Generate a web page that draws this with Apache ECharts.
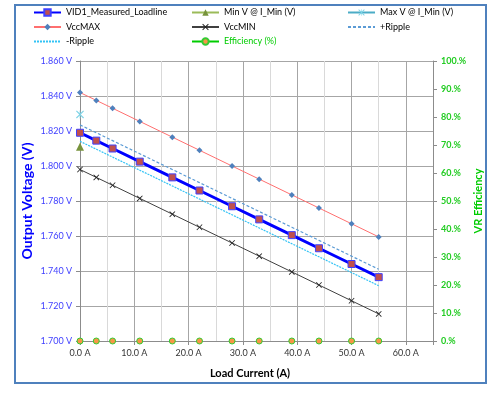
<!DOCTYPE html>
<html>
<head>
<meta charset="utf-8">
<script src="https://cdn.jsdelivr.net/npm/echarts@6/dist/echarts.min.js"></script>
<style>html,body{margin:0;padding:0;background:#fff}#c{width:500px;height:395px}</style>
</head>
<body>
<div id="c"></div>
<script>
var loadCurrent = [0, 3, 6, 11, 17, 22, 28, 33, 39, 44, 50, 55];
var vid1Measured = [1.819, 1.8145, 1.810, 1.8025, 1.7935, 1.786, 1.777, 1.7695, 1.7605, 1.753, 1.744, 1.7365];
var vccMax = [1.842, 1.8375, 1.833, 1.8255, 1.8165, 1.809, 1.800, 1.7925, 1.7835, 1.776, 1.767, 1.7595];
var vccMin = [1.798, 1.7935, 1.789, 1.7815, 1.7725, 1.765, 1.756, 1.7485, 1.7395, 1.732, 1.723, 1.7155];
var plusRipple = [1.8235, 1.819, 1.8145, 1.807, 1.798, 1.7905, 1.7815, 1.774, 1.765, 1.7575, 1.7485, 1.741];
var minusRipple = [1.8141, 1.8096, 1.8051, 1.7976, 1.7886, 1.7811, 1.7721, 1.7646, 1.7556, 1.7481, 1.7391, 1.7316];
var minVAtIMin = [[0, 1.811]];
var maxVAtIMin = [[0, 1.8295]];
var efficiency = [0, 0, 0, 0, 0, 0, 0, 0, 0, 0, 0, 0];
var xTicks = {min: 0, max: 65, interval: 10};
var yTicks = {min: 1.70, max: 1.86, interval: 0.02};
var effTicks = {min: 0, max: 100, interval: 10};

function pairs(xs, ys) { return xs.map(function (x, i) { return [x, ys[i]]; }); }

var FONT = 'Lato';
var xShape = 'path://M0,1L1,0L5,4L9,0L10,1L6,5L10,9L9,10L5,6L1,10L0,9L4,5Z';
var starShape = 'path://M0,1L1,0L5,4L9,0L10,1L6,5L10,9L9,10L5,6L1,10L0,9L4,5Z M4.6,0L5.4,0L5.4,10L4.6,10Z';

var chart = echarts.init(document.getElementById('c'), null, {renderer: 'canvas'});
var legendText = {fontFamily: FONT, fontSize: 9, color: '#000'};
function legend(left, names) {
  return {
    orient: 'vertical', left: left, top: 8, itemWidth: 27, itemHeight: 8, itemGap: 5.5,
    padding: 0, textStyle: legendText, data: names
  };
}
var noSym = {opacity: 0};
chart.setOption({
  animation: false,
  textStyle: {fontFamily: FONT},
  graphic: [{
    type: 'rect', shape: {x: 15, y: 5, width: 471, height: 378},
    style: {fill: 'none', stroke: '#4f81bd', lineWidth: 2}, silent: true
  }],
  legend: [
    legend(33, ['VID1_Measured_Loadline', 'VccMAX', {name: '-Ripple', itemStyle: noSym}]),
    legend(191, ['Min V @ I_Min (V)', 'VccMIN', {name: 'Efficiency (%)', textStyle: {color: '#00cc00'}, lineStyle: {color: '#00cc00', width: 2, opacity: 1}}]),
    legend(347, ['Max V @ I_Min (V)', {name: '+Ripple', itemStyle: noSym}])
  ],
  grid: {left: 80, right: 67, top: 61, bottom: 54},
  xAxis: {
    type: 'value', min: xTicks.min, max: xTicks.max, interval: xTicks.interval,
    name: 'Load Current (A)', nameLocation: 'middle', nameGap: 27,
    nameTextStyle: {fontFamily: FONT, fontSize: 11, fontWeight: 'bold', color: '#000', padding: [0, 13, 0, 0]},
    axisLine: {show: true, onZero: false, lineStyle: {color: '#8c8c8c'}},
    axisTick: {show: true, length: 4, lineStyle: {color: '#8c8c8c'}},
    axisLabel: {fontFamily: FONT, fontSize: 9, color: '#333', margin: 8,
      formatter: function (v) { return v > 60 ? '' : v.toFixed(1) + ' A'; }},
    splitLine: {show: true, lineStyle: {color: '#a6a6a6'}},
    minorTick: {show: false, splitNumber: 2},
    minorSplitLine: {show: true, lineStyle: {color: '#d9d9d9'}}
  },
  yAxis: [{
    type: 'value', min: yTicks.min, max: yTicks.max, interval: yTicks.interval,
    name: 'Output Voltage (V)', nameLocation: 'middle', nameGap: 46, nameRotate: 90, nameMoveOverlap: false,
    nameTextStyle: {fontFamily: FONT, fontSize: 14, fontWeight: 'bold', color: '#0000ff'},
    axisLine: {show: true, lineStyle: {color: '#8c8c8c'}},
    axisTick: {show: true, length: 4, lineStyle: {color: '#8c8c8c'}},
    axisLabel: {fontFamily: FONT, fontSize: 9, color: '#3f3fff', margin: 8,
      formatter: function (v) { return v.toFixed(3) + ' V'; }},
    splitLine: {show: true, lineStyle: {color: '#a6a6a6'}}
  }, {
    type: 'value', position: 'right', min: effTicks.min, max: effTicks.max, interval: effTicks.interval,
    name: 'VR Efficiency', nameLocation: 'middle', nameGap: 40, nameRotate: 90, nameMoveOverlap: false,
    nameTextStyle: {fontFamily: FONT, fontSize: 11, fontWeight: 'bold', color: '#00cc00'},
    axisLine: {show: true, lineStyle: {color: '#8c8c8c'}},
    axisTick: {show: true, length: 4, lineStyle: {color: '#8c8c8c'}},
    axisLabel: {fontFamily: FONT, fontSize: 9, fontWeight: 'bold', color: '#22cc22', margin: 8,
      formatter: function (v) { return v + '.%'; }},
    splitLine: {show: false}
  }],
  series: [
    {name: '+Ripple', type: 'line', data: pairs(loadCurrent, plusRipple), symbol: 'none',
      lineStyle: {color: '#5b9bd5', width: 1.2, type: [3, 2]}, itemStyle: {color: '#5b9bd5'}, z: 2},
    {name: '-Ripple', type: 'line', data: pairs(loadCurrent, minusRipple), symbol: 'none',
      lineStyle: {color: '#33c3f5', width: 1.2, type: [2, 1]}, itemStyle: {color: '#33c3f5'}, z: 2},
    {name: 'VccMAX', type: 'line', data: pairs(loadCurrent, vccMax), symbol: 'diamond', symbolSize: 6,
      lineStyle: {color: '#ff6f6f', width: 1}, itemStyle: {color: '#4f81bd'}, z: 3},
    {name: 'VccMIN', type: 'line', data: pairs(loadCurrent, vccMin), symbol: xShape, symbolSize: 6,
      lineStyle: {color: '#404040', width: 1}, itemStyle: {color: '#222'}, z: 3},
    {name: 'VID1_Measured_Loadline', type: 'line', data: pairs(loadCurrent, vid1Measured), symbol: 'rect', symbolSize: 7,
      lineStyle: {color: '#0000ff', width: 3}, itemStyle: {color: '#c0504d', borderColor: '#4040ff', borderWidth: 1}, z: 4},
    {name: 'Min V @ I_Min (V)', type: 'line', data: minVAtIMin, symbol: 'triangle', symbolSize: 8,
      lineStyle: {color: '#9bbb59', width: 2}, itemStyle: {color: '#77933c'}, z: 4},
    {name: 'Max V @ I_Min (V)', type: 'line', data: maxVAtIMin, symbol: starShape, symbolSize: 8,
      lineStyle: {color: '#4bacc6', width: 2}, itemStyle: {color: '#7fd3e6'}, z: 4},
    {name: 'Efficiency (%)', type: 'line', yAxisIndex: 1, data: pairs(loadCurrent, efficiency), symbol: 'circle', symbolSize: 6,
      lineStyle: {color: '#00cc00', width: 2, opacity: 0}, itemStyle: {color: '#f79646', borderColor: '#33cc33', borderWidth: 1}, z: 5}
  ]
});
</script>
</body>
</html>
